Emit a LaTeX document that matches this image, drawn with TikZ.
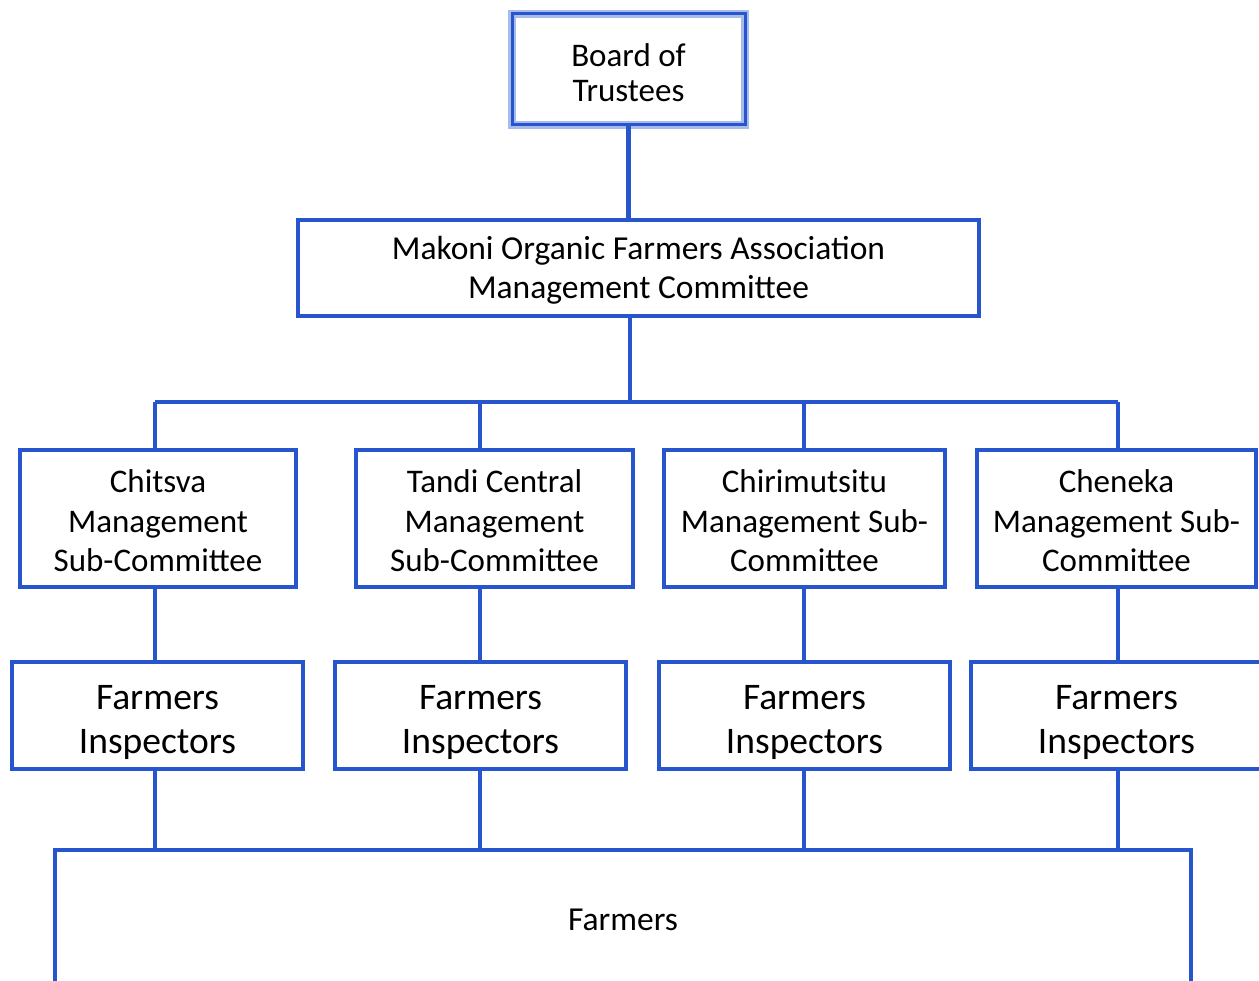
\documentclass[tikz,border=0pt]{standalone}
\usepackage{fontspec}
\setmainfont{Carlito}
\usepackage{tikz}
\usetikzlibrary{positioning}

\definecolor{orgblue}{RGB}{38,85,205}

\begin{document}
\begin{tikzpicture}[
  x=1pt, y=-1pt,
  box/.style={draw=orgblue,line width=4.5pt,rectangle,align=center,inner sep=0pt},
  topbox/.style={box,line width=3pt,preaction={draw=orgblue!40,line width=8pt}},
  subbox/.style={box,minimum height=137pt,text height=106pt,text depth=0pt,font=\fontsize{33}{39.5}\selectfont},
  inspbox/.style={box,minimum width=291pt,minimum height=107pt,text height=76pt,text depth=0pt,font=\fontsize{37.5}{44}\selectfont},
  link/.style={draw=orgblue,line width=4.5pt}
]
  \useasboundingbox (0,0) rectangle (1259,981);
  \clip (0,0) rectangle (1259,981);

  % top levels
  \node[topbox,minimum width=233pt,minimum height=111pt,text height=65pt,text depth=0pt,font=\fontsize{33}{35}\selectfont] (board) at (628.5,69.5) {Board of\\Trustees};
  \node[box,minimum width=681pt,minimum height=96pt,text depth=1pt,font=\fontsize{33.5}{39}\selectfont] (mgmt) at (638.5,268) {Makoni Organic Farmers Association\\Management Committee};

  % sub-committees
  \node[subbox,minimum width=276pt] (sub1) at (158,518.5) {Chitsva\\Management\\Sub-Committee};
  \node[subbox,minimum width=277pt] (sub2) at (494.5,518.5) {Tandi Central\\Management\\Sub-Committee};
  \node[subbox,minimum width=281pt] (sub3) at (804.5,518.5) {Chirimutsitu\\Management Sub-\\Committee};
  \node[subbox,minimum width=279pt] (sub4) at (1116.5,518.5) {Cheneka\\Management Sub-\\Committee};

  % inspectors
  \node[inspbox] (insp1) at (157.5,715.5) {Farmers\\Inspectors};
  \node[inspbox] (insp2) at (480.5,715.5) {Farmers\\Inspectors};
  \node[inspbox] (insp3) at (804.5,715.5) {Farmers\\Inspectors};
  \node[inspbox] (insp4) at (1116.5,715.5) {Farmers\\Inspectors};

  % farmers
  \node[box,minimum width=1136pt,minimum height=140pt,font=\fontsize{33.5}{36}\selectfont] (farm) at (623,920) {Farmers};

  % bus points
  \coordinate (bus) at (630,402);
  \coordinate (k1) at (155,402);
  \coordinate (k2) at (480,402);
  \coordinate (k3) at (804,402);
  \coordinate (k4) at (1118,402);

  % links
  \draw[link] (board.south) -- (board.south |- mgmt.north);
  \draw[link] (mgmt.south -| bus) -- (bus);
  \draw[link] (k1) -- (k4);
  \draw[link] (k1) -- (k1 |- sub1.north);
  \draw[link] (k2) -- (k2 |- sub2.north);
  \draw[link] (k3) -- (k3 |- sub3.north);
  \draw[link] (k4) -- (k4 |- sub4.north);
  \draw[link] (k1 |- sub1.south) -- (k1 |- insp1.north);
  \draw[link] (k2 |- sub2.south) -- (k2 |- insp2.north);
  \draw[link] (k3 |- sub3.south) -- (k3 |- insp3.north);
  \draw[link] (k4 |- sub4.south) -- (k4 |- insp4.north);
  \draw[link] (k1 |- insp1.south) -- (k1 |- farm.north);
  \draw[link] (k2 |- insp2.south) -- (k2 |- farm.north);
  \draw[link] (k3 |- insp3.south) -- (k3 |- farm.north);
  \draw[link] (k4 |- insp4.south) -- (k4 |- farm.north);

\end{tikzpicture}
\end{document}
